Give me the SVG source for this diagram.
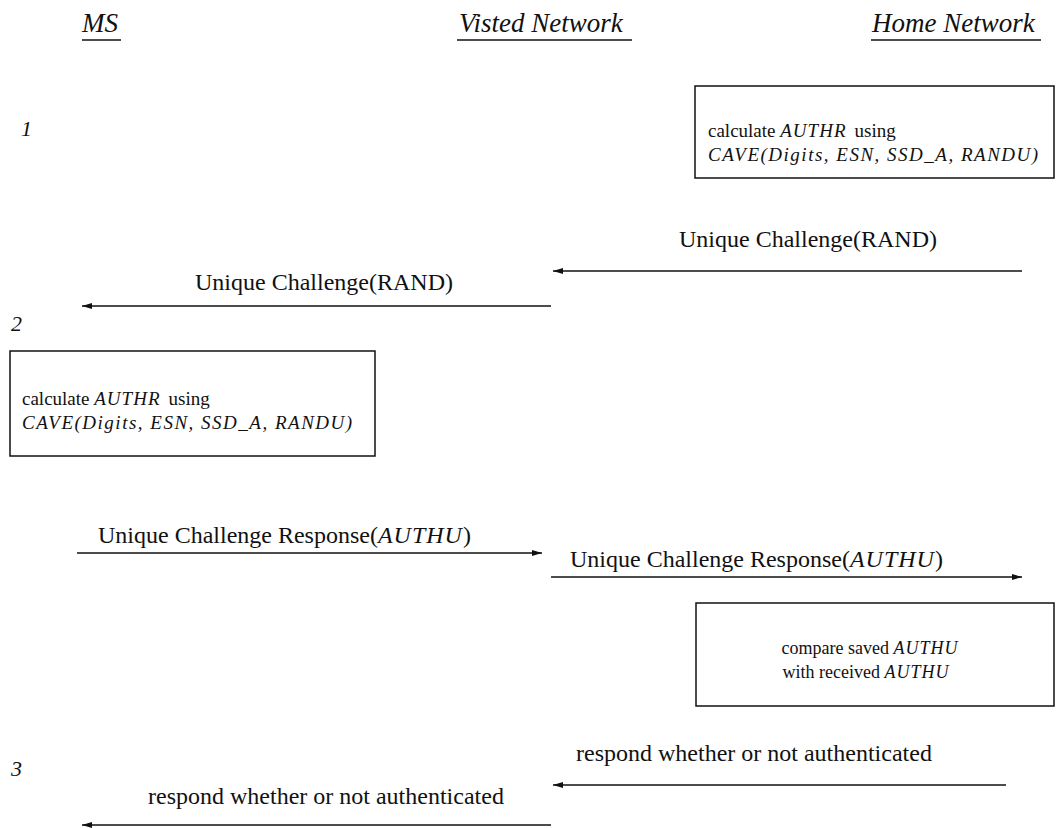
<svg xmlns="http://www.w3.org/2000/svg" width="1056" height="828" viewBox="0 0 1056 828">
<style>
text{font-family:"Liberation Serif","Times New Roman",serif;fill:#111}
.hd{font-size:27px;font-style:italic}
.num{font-size:22px;font-style:italic}
.lbl{font-size:24px}
.bx{font-size:19px}
.bx3{font-size:18px}
.it{font-style:italic}
.sp{letter-spacing:1px}
.wide{letter-spacing:1.5px}
.box{fill:#fff;stroke:#111;stroke-width:1.5}
.ln{stroke:#111;stroke-width:1.5;fill:none}
.arr{stroke:#111;stroke-width:1.5;fill:none;marker-end:url(#ah)}
</style>
<defs>
<marker id="ah" viewBox="0 0 10 6" refX="10" refY="3" markerWidth="10" markerHeight="6" markerUnits="userSpaceOnUse" orient="auto">
<path d="M0,0 L10,3 L0,6 Z" fill="#111"/>
</marker>
</defs>
<g id="headers">
<text class="hd" x="82" y="32">MS</text>
<line class="ln" x1="82" y1="40" x2="121" y2="40"/>
<text class="hd" x="459" y="32">Visted Network</text>
<line class="ln" x1="457" y1="40" x2="632" y2="40"/>
<text class="hd" x="872" y="32">Home Network</text>
<line class="ln" x1="871" y1="40" x2="1041" y2="40"/>
</g>
<g id="steps">
<text class="num" x="21" y="136">1</text>
<text class="num" x="11" y="331">2</text>
<text class="num" x="11" y="776">3</text>
</g>
<g id="box-home-calc">
<rect class="box" x="695" y="86" width="359" height="92"/>
<text class="bx" x="708" y="137">calculate <tspan class="it sp">AUTHR</tspan><tspan dx="8">using</tspan></text>
<text class="bx it wide" x="708" y="161">CAVE(Digits, ESN, SSD_A, RANDU)</text>
</g>
<g id="box-ms-calc">
<rect class="box" x="10" y="351" width="365" height="105"/>
<text class="bx" x="22" y="405">calculate <tspan class="it sp">AUTHR</tspan><tspan dx="8">using</tspan></text>
<text class="bx it wide" x="22" y="429">CAVE(Digits, ESN, SSD_A, RANDU)</text>
</g>
<g id="box-home-compare">
<rect class="box" x="696" y="603" width="358" height="103"/>
<text class="bx3" x="870" y="654" text-anchor="middle">compare saved <tspan class="it sp">AUTHU</tspan></text>
<text class="bx3" x="866" y="678" text-anchor="middle">with received <tspan class="it sp">AUTHU</tspan></text>
</g>
<g id="connectors">
<line class="arr" x1="1022" y1="271" x2="553" y2="271"/>
<text class="lbl" x="808" y="247" text-anchor="middle">Unique Challenge(RAND)</text>
<line class="arr" x1="551" y1="306" x2="82" y2="306"/>
<text class="lbl" x="324" y="290" text-anchor="middle">Unique Challenge(RAND)</text>
<line class="arr" x1="77" y1="553" x2="542" y2="553"/>
<text class="lbl" x="98" y="543">Unique Challenge Response(<tspan class="it sp">AUTHU</tspan>)</text>
<line class="arr" x1="551" y1="577" x2="1022" y2="577"/>
<text class="lbl" x="570" y="567">Unique Challenge Response(<tspan class="it sp">AUTHU</tspan>)</text>
<line class="arr" x1="1006" y1="785" x2="553" y2="785"/>
<text class="lbl" x="576" y="761">respond whether or not authenticated</text>
<line class="arr" x1="551" y1="825" x2="82" y2="825"/>
<text class="lbl" x="148" y="804">respond whether or not authenticated</text>
</g>
</svg>
